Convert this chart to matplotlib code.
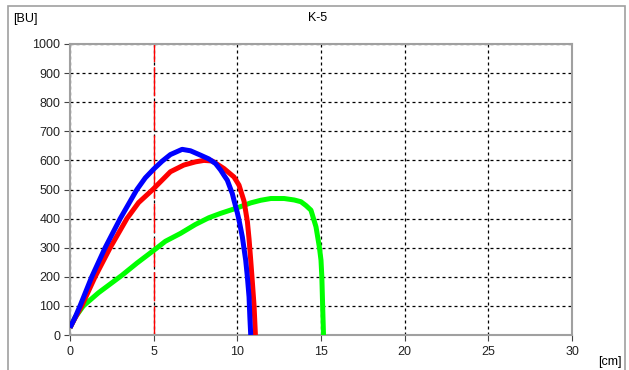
from matplotlib import pyplot as plt
from matplotlib.patches import Rectangle

# curves
blue_x = [0, 0.3, 0.6, 1.3, 2.1, 3.0, 4.0, 4.5, 5.0, 5.5, 6.0, 6.7, 7.2, 7.8, 8.3, 8.7, 9.0, 9.2, 9.4,
          9.7, 9.8, 10.0, 10.1, 10.3, 10.5, 10.6, 10.7, 10.75, 10.8]
blue_y = [25, 60, 100, 200, 300, 400, 500, 540, 570, 597, 620, 638, 633, 618, 605, 589, 567, 549, 532,
          486, 463, 420, 395, 337, 257, 200, 131, 60, 0]

red_x = [0, 0.3, 0.7, 1.5, 2.4, 3.4, 4.1, 4.8, 5.0, 6.0, 6.8, 7.5, 8.0, 8.5, 9.2, 9.8, 10.1, 10.4,
         10.6, 10.7, 10.8, 10.9, 11.0, 11.08]
red_y = [25, 58, 100, 200, 300, 400, 455, 492, 503, 561, 584, 595, 600, 598, 572, 543, 515, 460,
         390, 330, 257, 180, 100, 0]

green_x = [0, 0.3, 0.8, 1.7, 2.4, 3.1, 4.0, 5.1, 5.7, 6.6, 7.5, 8.3, 9.0, 9.9, 10.8, 11.4, 12.0, 12.8,
           13.4, 13.8, 14.1, 14.4, 14.7, 14.9, 15.0, 15.05, 15.1, 15.15]
green_y = [25, 60, 100, 145, 175, 205, 247, 295, 322, 349, 380, 403, 418, 435, 454, 463, 469, 469,
           464, 458, 445, 429, 372, 303, 257, 200, 97, 0]

x_ticks = [0, 5, 10, 15, 20, 25, 30]
y_ticks = [0, 100, 200, 300, 400, 500, 600, 700, 800, 900, 1000]
marker_x = 5

plt.rcParams['font.family'] = ['Liberation Sans', 'DejaVu Sans']

fig = plt.figure(figsize=(6.29, 3.70), dpi=100)
fig.patches.append(Rectangle((8 / 629, -0.1), 617 / 629, 1.1 - 6 / 370,
                             transform=fig.transFigure, fill=False,
                             edgecolor='#a0a0a0', linewidth=1.2))

ax = fig.add_axes([70 / 629, 35 / 370, 502 / 629, 291 / 370])
ax.set_xlim(0, 30)
ax.set_ylim(0, 1000)
ax.set_xticks(x_ticks)
ax.set_yticks(y_ticks)

ax.grid(True, color='black', linewidth=0.9, linestyle=(0, (2.4, 2.4)))
ax.set_axisbelow(True)
ax.tick_params(direction='out', length=4, width=0.8, color='#444444',
               labelsize=9, labelcolor='#222222', pad=3)
ax.tick_params(axis='x', pad=4)
for s in ax.spines.values():
    s.set_color('#a0a0a0')
    s.set_linewidth(1.5)

ax.axvline(marker_x, color='red', linewidth=1, linestyle=(0, (21, 3.6)), zorder=2)

style = dict(linewidth=3.6, solid_joinstyle='round', solid_capstyle='butt')
ax.plot(green_x, green_y, color='#00ff00', zorder=3, **style)
ax.plot(red_x, red_y, color='#ff0000', zorder=4, **style)
ax.plot(blue_x, blue_y, color='#0000ff', zorder=5, **style)

fig.text(318 / 629, 1 - 18 / 370, 'K-5', ha='center', va='center', fontsize=9)
fig.text(13 / 629, 1 - 19 / 370, '[BU]', ha='left', va='center', fontsize=9)
fig.text(622 / 629, 1 - 362 / 370, '[cm]', ha='right', va='center', fontsize=9)

plt.savefig('out.png', dpi=100)
